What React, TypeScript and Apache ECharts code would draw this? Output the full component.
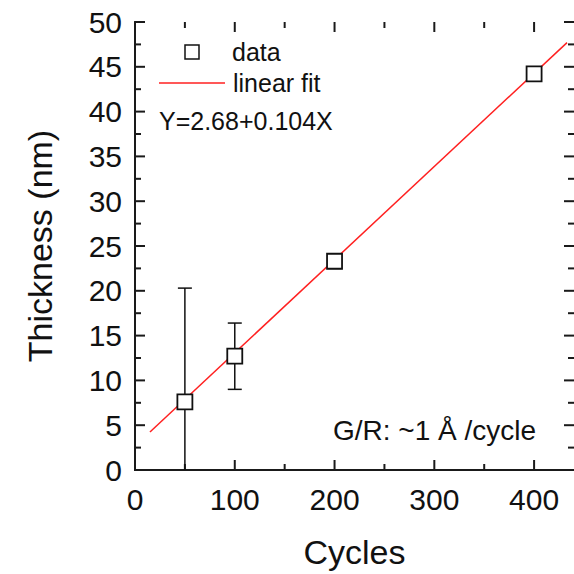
import React, { useEffect, useRef } from "react";
import * as echarts from "echarts";

const cycles = [50, 100, 200, 400];
const thickness = [7.6, 12.7, 23.3, 44.2];
const errors = [12.7, 3.7, 0.8, 0.8];
const fitX = [15, 433];
const fitY = [4.24, 47.7];
const xTicks = [0, 100, 200, 300, 400];
const xMinorTicks = [50, 150, 250, 350];
const yTicks = [0, 5, 10, 15, 20, 25, 30, 35, 40, 45, 50];
const yMinorTicks = [2.5, 7.5, 12.5, 17.5, 22.5, 27.5, 32.5, 37.5, 42.5, 47.5];

const FONT = "Liberation Sans, Arial, sans-serif";
const AX = "#1a1a1a";

const mkLine = () => ({ show: true, lineStyle: { color: AX, width: 2 } });

export default function App() {
  const ref = useRef<HTMLDivElement>(null);
  useEffect(() => {
    if (!ref.current) return;
    const chart = echarts.init(ref.current, null, { renderer: "svg" });
    const scatterData = cycles.map((c, i) => [c, thickness[i]]);
    const errData = cycles.map((c, i) => [c, thickness[i], errors[i]]);
    const fitData = fitX.map((x, i) => [x, fitY[i]]);
    const MAJOR = 10;
    const MINOR = 6;
    const tickData = [
      ...xTicks.map((v) => [v, 0, 0, MAJOR]),
      ...xMinorTicks.map((v) => [v, 0, 0, MINOR]),
      ...yTicks.map((v) => [0, v, 1, MAJOR]),
      ...yMinorTicks.map((v) => [0, v, 1, MINOR]),
    ];
    chart.setOption({
      animation: false,
      backgroundColor: "#ffffff",
      grid: { left: 135, top: 22, right: -3, bottom: 104, containLabel: false },
      xAxis: [
        {
          type: "value",
          position: "bottom",
          min: xTicks[0],
          max: 440,
          interval: 100,
          name: "Cycles",
          nameLocation: "middle",
          nameGap: 65,
          nameTextStyle: { fontSize: 34, color: "#111", fontFamily: FONT },
          axisLine: mkLine(),
          axisTick: { show: false },
          minorTick: { show: false },
          splitLine: { show: false },
          axisLabel: {
            fontSize: 30,
            color: "#111",
            fontFamily: FONT,
            margin: 14,
            showMaxLabel: false,
          },
        },
        {
          type: "value",
          position: "top",
          min: xTicks[0],
          max: 440,
          interval: 100,
          axisLine: mkLine(),
          axisTick: { show: false },
          splitLine: { show: false },
          axisLabel: { show: false },
        },
      ],
      yAxis: [
        {
          type: "value",
          position: "left",
          min: yTicks[0],
          max: yTicks[yTicks.length - 1],
          interval: 5,
          name: "Thickness (nm)",
          nameLocation: "middle",
          nameGap: 78,
          nameTextStyle: { fontSize: 34, color: "#111", fontFamily: FONT },
          axisLine: mkLine(),
          axisTick: { show: false },
          minorTick: { show: false },
          splitLine: { show: false },
          axisLabel: { fontSize: 30, color: "#111", fontFamily: FONT, margin: 13 },
        },
        {
          type: "value",
          position: "right",
          min: yTicks[0],
          max: yTicks[yTicks.length - 1],
          interval: 5,
          axisLine: mkLine(),
          axisTick: { show: false },
          splitLine: { show: false },
          axisLabel: { show: false },
        },
      ],
      series: [
        {
          type: "custom",
          name: "ticks",
          data: tickData,
          clip: false,
          silent: true,
          z: 0,
          encode: { x: 0, y: 1 },
          renderItem: (params: any, api: any) => {
            const cs = params.coordSys;
            const v0 = api.value(0);
            const v1 = api.value(1);
            const which = api.value(2);
            const len = api.value(3);
            const style = { stroke: AX, lineWidth: 2 };
            if (which === 0) {
              const px = api.coord([v0, 0])[0];
              const b = cs.y + cs.height;
              return {
                type: "group",
                children: [
                  { type: "line", shape: { x1: px, y1: b, x2: px, y2: b - len }, style },
                  { type: "line", shape: { x1: px, y1: cs.y, x2: px, y2: cs.y + len }, style },
                ],
              };
            }
            const py = api.coord([0, v1])[1];
            const r = cs.x + cs.width;
            return {
              type: "group",
              children: [
                { type: "line", shape: { x1: cs.x, y1: py, x2: cs.x + len, y2: py }, style },
                { type: "line", shape: { x1: r, y1: py, x2: r - len, y2: py }, style },
              ],
            };
          },
        },
        {
          type: "line",
          name: "linear fit",
          data: fitData,
          showSymbol: false,
          symbol: "none",
          lineStyle: { color: "#ff2020", width: 1.5 },
          z: 1,
        },
        {
          type: "custom",
          name: "error",
          data: errData,
          clip: true,
          z: 2,
          renderItem: (params: any, api: any) => {
            const x = api.value(0);
            const y = api.value(1);
            const e = api.value(2);
            const lo = Math.max(y - e, 0);
            const top = api.coord([x, y + e]);
            const bot = api.coord([x, lo]);
            const half = 7;
            const style = { stroke: "#111", lineWidth: 1.5 };
            const children: any[] = [
              { type: "line", shape: { x1: top[0], y1: top[1], x2: bot[0], y2: bot[1] }, style },
              { type: "line", shape: { x1: top[0] - half, y1: top[1], x2: top[0] + half, y2: top[1] }, style },
            ];
            if (y - e >= 0) {
              children.push({ type: "line", shape: { x1: bot[0] - half, y1: bot[1], x2: bot[0] + half, y2: bot[1] }, style });
            }
            return { type: "group", children };
          },
        },
        {
          type: "scatter",
          name: "data",
          data: scatterData,
          symbol: "rect",
          symbolSize: 15,
          itemStyle: { color: "#ffffff", borderColor: "#111", borderWidth: 1.8, opacity: 1 },
          z: 3,
        },
      ],
      graphic: [
        {
          type: "rect",
          shape: { x: 185, y: 45, width: 14, height: 14 },
          style: { fill: "#fff", stroke: "#111", lineWidth: 1.5 },
        },
        {
          type: "text",
          x: 232,
          y: 52,
          style: { text: "data", fontSize: 25, fontFamily: FONT, fill: "#111", verticalAlign: "middle" },
        },
        {
          type: "line",
          shape: { x1: 159, y1: 83, x2: 225, y2: 83 },
          style: { stroke: "#ff2020", lineWidth: 1.5 },
        },
        {
          type: "text",
          x: 233,
          y: 83,
          style: { text: "linear fit", fontSize: 25, fontFamily: FONT, fill: "#111", verticalAlign: "middle" },
        },
        {
          type: "text",
          x: 159,
          y: 121,
          style: { text: "Y=2.68+0.104X", fontSize: 25, fontFamily: FONT, fill: "#111", verticalAlign: "middle" },
        },
        {
          type: "text",
          x: 333,
          y: 430,
          style: { text: "G/R: ~1 Å /cycle", fontSize: 28, fontFamily: FONT, fill: "#111", verticalAlign: "middle" },
        },
      ],
    });
    return () => chart.dispose();
  }, []);
  return (
    <div
      ref={ref}
      style={{ position: "absolute", left: 0, top: 0, width: 574, height: 574, background: "#fff" }}
    />
  );
}
